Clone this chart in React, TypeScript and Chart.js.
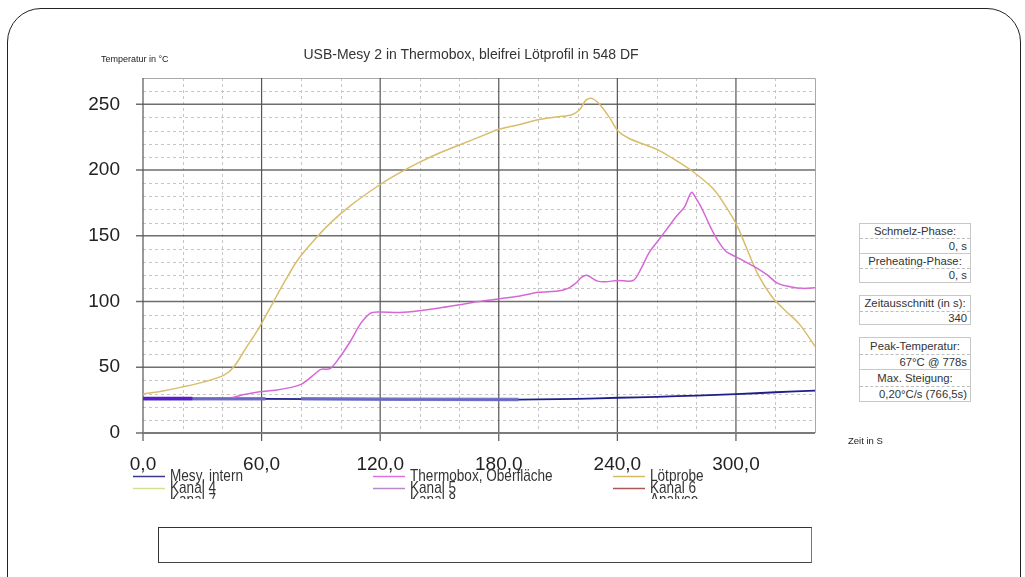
import React, { useEffect, useRef } from 'react';
import { Chart, registerables } from 'chart.js';

Chart.register(...registerables);

const FONT = '"Liberation Sans", Arial, Helvetica, sans-serif';

// ---- data ----
const lotX = [0, 10, 19, 30, 41, 46, 52, 59, 66, 72, 78, 85, 95, 105, 120, 130, 140, 150, 160, 170, 180, 190, 201, 210, 217, 221, 224, 227, 231, 236, 240.5, 246, 252.6, 261, 270, 278.5, 288.6, 295, 300.8, 305, 311, 318, 325, 332, 340];
const lotY = [29.6, 32, 34.7, 38.5, 44, 50.4, 64.3, 80.8, 99.8, 116, 131, 144, 160, 173, 189, 198, 206, 213, 219, 225, 231, 234.5, 238.6, 240.5, 242, 246, 253, 254.5, 250, 240, 229.5, 224, 220, 215, 207, 198.5, 185.6, 172, 157, 142, 121, 104, 93, 83, 66];

const thermoX = [45, 52, 59, 67, 75, 80, 83, 87, 90, 94.7, 99.7, 104.8, 110, 115, 119, 130, 140, 150, 160, 170, 180, 190, 200, 210, 215, 219, 222, 224.5, 227, 230, 234, 240, 248, 252, 256, 261, 266, 270, 274, 277.5, 280, 283, 287, 291, 295, 300, 305, 311, 316, 321, 328, 334, 340];
const thermoY = [27, 29.5, 31.4, 32.5, 34.7, 37, 40, 45, 48.4, 49, 58, 69.4, 83, 91, 92, 91.7, 93, 95, 97.5, 100, 102, 104, 107, 108, 110, 114, 118.5, 120, 118, 115.5, 115, 116, 116, 125, 137, 147, 157, 165, 172, 183, 178, 170, 157, 146, 138, 134, 130, 125, 120, 114, 111, 110, 110.5];

const mesyX = [0, 60, 120, 180, 200, 220, 240, 260, 280, 300, 320, 340];
const mesyY = [26, 26, 25.5, 25.3, 25.5, 26, 26.8, 27.5, 28.5, 29.5, 31, 32.3];

const kanal8X = [0, 62, 70, 80, 190];
const kanal8Y = [26, 26, null, 26, 25.5];

const kanal5X = [0, 25];
const kanal5Y = [26.2, 26.2];

const legendLabels = ['Mesy, intern', 'Thermobox, Oberfläche', 'Lötprobe', 'Kanal 4', 'Kanal 5', 'Kanal 6', 'Kanal 7', 'Kanal 8', 'Analyse'];
const legendColors = ['#3a3a8c', '#e070e0', '#d8b860', '#d4e090', '#b888cc', '#a85858', '#58a8a8', '#4c4cac', '#98dce4'];

const xMajorTicks = [0, 60, 120, 180, 240, 300];
const yMajorTicks = [0, 50, 100, 150, 200, 250];

const X_MIN = 0, X_MAX = 340, Y_MIN = 0, Y_MAX = 270;

const pts = (xs: number[], ys: (number | null)[]) => xs.map((x, i) => ({ x, y: ys[i] }));

const gridPlugin = {
  id: 'customGrid',
  beforeDatasetsDraw(chart: any) {
    const { ctx, chartArea: a, scales } = chart;
    const x = scales.x, y = scales.y;
    const r = (v: number) => Math.round(v) + 0.5;
    ctx.save();
    ctx.setLineDash([3, 3]);
    ctx.lineWidth = 1;
    ctx.strokeStyle = '#c6c6c6';
    for (let v = 10; v < Y_MAX; v += 10) {
      if (v % 50 === 0) continue;
      const py = r(y.getPixelForValue(v));
      ctx.beginPath(); ctx.moveTo(a.left, py); ctx.lineTo(a.right, py); ctx.stroke();
    }
    for (let v = 20; v < X_MAX; v += 20) {
      if (v % 60 === 0) continue;
      const px = r(x.getPixelForValue(v));
      ctx.beginPath(); ctx.moveTo(px, a.top); ctx.lineTo(px, a.bottom); ctx.stroke();
    }
    ctx.setLineDash([]);
    ctx.strokeStyle = '#a8a8a8';
    ctx.beginPath(); ctx.moveTo(a.left, r(a.top)); ctx.lineTo(r(a.right), r(a.top)); ctx.lineTo(r(a.right), a.bottom); ctx.stroke();
    ctx.strokeStyle = '#6e6e6e';
    ctx.lineWidth = 1.5;
    for (const v of yMajorTicks) {
      const py = y.getPixelForValue(v);
      ctx.beginPath(); ctx.moveTo(a.left - 7, py); ctx.lineTo(a.right, py); ctx.stroke();
    }
    ctx.strokeStyle = '#555555';
    ctx.lineWidth = 1.2;
    for (const v of xMajorTicks) {
      const px = x.getPixelForValue(v);
      ctx.beginPath(); ctx.moveTo(px, a.top); ctx.lineTo(px, a.bottom + 8); ctx.stroke();
    }
    ctx.strokeStyle = '#7a7a7a';
    ctx.lineWidth = 2;
    ctx.beginPath(); ctx.moveTo(a.left, y.getPixelForValue(0)); ctx.lineTo(a.right, y.getPixelForValue(0)); ctx.stroke();
    ctx.restore();
  },
};

const legendPlugin = {
  id: 'gridLegend',
  afterDraw(chart: any) {
    const { ctx } = chart;
    const cols = [133, 373, 613];
    ctx.save();
    ctx.beginPath();
    ctx.rect(0, 0, 1025, 499);
    ctx.clip();
    ctx.font = `14px ${FONT}`;
    ctx.textBaseline = 'middle';
    ctx.textAlign = 'left';
    legendLabels.forEach((label, i) => {
      const x0 = cols[i % 3];
      const yy = 476 + Math.floor(i / 3) * 12;
      ctx.strokeStyle = legendColors[i];
      ctx.lineWidth = 1.5;
      ctx.beginPath(); ctx.moveTo(x0, yy + 0.5); ctx.lineTo(x0 + 32, yy + 0.5); ctx.stroke();
      ctx.fillStyle = '#333';
      ctx.save();
      ctx.translate(x0 + 37, yy);
      ctx.scale(0.97, 1.2);
      ctx.fillText(label, 0, 0);
      ctx.restore();
    });
    ctx.restore();
  },
};

const fmt = (v: number) => v.toFixed(1).replace('.', ',');

function InfoEntry({ label, value, labelH, valueH, first }: { label: string; value: string; labelH: number; valueH: number; first?: boolean }) {
  return (
    <div style={{ borderTop: first ? 'none' : '1px solid #c8c8c8' }}>
      <div style={{ height: labelH, lineHeight: labelH + 'px', textAlign: 'center', borderBottom: '1px dashed #bdbdbd', whiteSpace: 'nowrap' }}>{label}</div>
      <div style={{ height: valueH, lineHeight: valueH + 'px', textAlign: 'right', paddingRight: 3, whiteSpace: 'nowrap' }}>{value}</div>
    </div>
  );
}

const boxStyle = (top: number): React.CSSProperties => ({
  position: 'absolute', left: 859, top, width: 110, border: '1px solid #c8c8c8', background: '#fff',
  fontFamily: FONT, fontSize: 11.3, color: '#333', boxSizing: 'content-box',
});

export default function App() {
  const canvasRef = useRef<HTMLCanvasElement | null>(null);

  useEffect(() => {
    if (!canvasRef.current) return;
    const chart = new Chart(canvasRef.current, {
      type: 'line',
      data: {
        datasets: [
          { label: 'Thermobox, Oberfläche', data: pts(thermoX, thermoY), borderColor: '#d668d6', borderWidth: 1.5 },
          { label: 'Lötprobe', data: pts(lotX, lotY), borderColor: '#d9bd6a', borderWidth: 1.5 },
          { label: 'Kanal 5', data: pts(kanal5X, kanal5Y), borderColor: '#5a1ec8', borderWidth: 3.5 },
          { label: 'Kanal 8', data: pts(kanal8X, kanal8Y), borderColor: 'rgba(112,112,200,0.9)', borderWidth: 3.5 },
          { label: 'Mesy, intern', data: pts(mesyX, mesyY), borderColor: '#1e1e8c', borderWidth: 1.8 },
        ] as any,
      },
      options: {
        animation: false,
        responsive: true,
        maintainAspectRatio: false,
        elements: { point: { radius: 0 }, line: { tension: 0.3 } },
        layout: { padding: { top: 78, right: 210, left: 0, bottom: 0 } },
        plugins: { legend: { display: false }, tooltip: { enabled: false }, title: { display: false } },
        scales: {
          x: {
            type: 'linear', min: X_MIN, max: X_MAX,
            grid: { display: false }, border: { display: false },
            afterFit: (s: any) => { s.height = 144; },
            ticks: {
              stepSize: 60, autoSkip: false, maxRotation: 0, padding: 12,
              color: '#222', font: { family: FONT, size: 19 },
              callback: (v: any) => (Number(v) % 60 === 0 ? fmt(Number(v)) : ''),
            },
          },
          y: {
            type: 'linear', min: Y_MIN, max: Y_MAX,
            grid: { display: false }, border: { display: false },
            afterFit: (s: any) => { s.width = 143; },
            ticks: {
              stepSize: 50, padding: 15, color: '#222', font: { family: FONT, size: 19 },
              callback: (v: any) => (Number(v) % 50 === 0 ? String(v) : ''),
            },
          },
        },
      },
      plugins: [gridPlugin, legendPlugin],
    });
    return () => chart.destroy();
  }, []);

  return (
    <div style={{ position: 'fixed', left: 0, top: 0, width: 1025, height: 577, overflow: 'hidden', background: '#fff' }}>
      <div style={{ position: 'absolute', left: 7, top: 8, width: 1012, height: 610, border: '1.5px solid #222', borderRadius: 34 }} />
      <div style={{ position: 'absolute', left: 0, top: 0, width: 1025, height: 577 }}>
        <canvas ref={canvasRef} />
      </div>
      <div style={{ position: 'absolute', left: 221, top: 46, width: 500, textAlign: 'center', fontFamily: FONT, fontSize: 14, lineHeight: '17px', color: '#333', whiteSpace: 'nowrap' }}>
        USB-Mesy 2 in Thermobox, bleifrei Lötprofil in 548 DF
      </div>
      <div style={{ position: 'absolute', left: 101, top: 54, fontFamily: FONT, fontSize: 9, lineHeight: '10px', color: '#222', whiteSpace: 'nowrap' }}>Temperatur in °C</div>
      <div style={{ position: 'absolute', left: 848, top: 436, fontFamily: FONT, fontSize: 9.5, lineHeight: '10px', color: '#222', whiteSpace: 'nowrap' }}>Zeit in S</div>

      <div style={boxStyle(223)}>
        <InfoEntry first label="Schmelz-Phase:" value="0, s" labelH={14} valueH={14} />
        <InfoEntry label="Preheating-Phase:" value="0, s" labelH={14} valueH={13} />
      </div>
      <div style={boxStyle(295)}>
        <InfoEntry first label="Zeitausschnitt (in s):" value="340" labelH={15} valueH={12} />
      </div>
      <div style={boxStyle(337)}>
        <InfoEntry first label="Peak-Temperatur:" value="67°C @ 778s" labelH={16} valueH={14} />
        <InfoEntry label="Max. Steigung:" value="0,20°C/s (766,5s)" labelH={16} valueH={14} />
      </div>

      <div style={{ position: 'absolute', left: 158, top: 527, width: 652, height: 34, borderTop: '1.5px solid #333', borderLeft: '1.5px solid #333', borderRight: '1px solid #777', borderBottom: '1.5px solid #444', background: '#fff' }} />
    </div>
  );
}
